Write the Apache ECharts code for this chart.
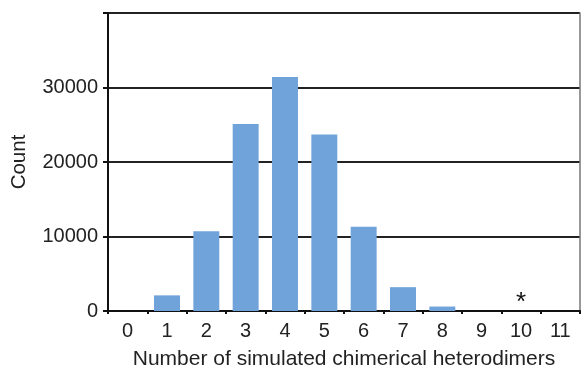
<!DOCTYPE html>
<html>
<head>
<meta charset="utf-8">
<script src="https://cdn.jsdelivr.net/npm/echarts@6/dist/echarts.min.js"></script>
<style>
  html, body { margin: 0; padding: 0; background: #fff; }
  #main { width: 581px; height: 371px; }
</style>
</head>
<body>
<div id="main"></div>
<script>
var categories = ['0', '1', '2', '3', '4', '5', '6', '7', '8', '9', '10', '11'];
var counts = [0, 2100, 10700, 25100, 31400, 23700, 11300, 3200, 600, 0, 0, 0];
var starredCategory = '10';

var chart = echarts.init(document.getElementById('main'));

var barData = counts.map(function (v, i) {
    if (categories[i] === starredCategory) {
        return {
            value: v,
            label: { show: true, position: 'top', formatter: '*', fontSize: 26, color: '#111', distance: -5 }
        };
    }
    return v;
});

var option = {
    backgroundColor: '#fff',
    animation: false,
    grid: { left: 108, right: 1, top: 13, bottom: 60, outerBoundsMode: 'none', containLabel: false },
    xAxis: {
        type: 'category',
        data: categories,
        boundaryGap: true,
        name: 'Number of simulated chimerical heterodimers',
        nameLocation: 'middle',
        nameGap: 38,
        nameTextStyle: { fontSize: 21, color: '#222', fontFamily: 'Liberation Sans' },
        axisLine: { lineStyle: { color: '#111', width: 2 } },
        axisTick: { show: true, length: 3, lineStyle: { color: '#111', width: 2 } },
        axisLabel: { fontSize: 20, color: '#222', fontFamily: 'Liberation Sans', margin: 10 }
    },
    yAxis: [{
        type: 'value',
        min: 0,
        max: 40000,
        interval: 10000,
        name: 'Count',
        nameLocation: 'middle',
        nameGap: 78,
        nameTextStyle: { fontSize: 20.5, color: '#222', fontFamily: 'Liberation Sans' },
        axisLine: { show: true, lineStyle: { color: '#111', width: 2 } },
        axisTick: { show: true, length: 5, lineStyle: { color: '#111', width: 2 } },
        axisLabel: {
            fontSize: 20, color: '#222', fontFamily: 'Liberation Sans', margin: 10,
            formatter: function (v) { return v === 40000 ? '' : v; }
        },
        splitLine: { show: true, lineStyle: { color: '#222', width: 2 } }
    }, {
        type: 'value',
        position: 'right',
        min: 0,
        max: 40000,
        interval: 10000,
        axisLine: { show: true, lineStyle: { color: '#777', width: 1.5 } },
        axisTick: { show: false },
        axisLabel: { show: false },
        splitLine: { show: false }
    }],
    series: [{
        type: 'bar',
        data: barData,
        barWidth: '66%',
        itemStyle: { color: '#70a3d9' }
    }]
};

chart.setOption(option);
</script>
</body>
</html>
